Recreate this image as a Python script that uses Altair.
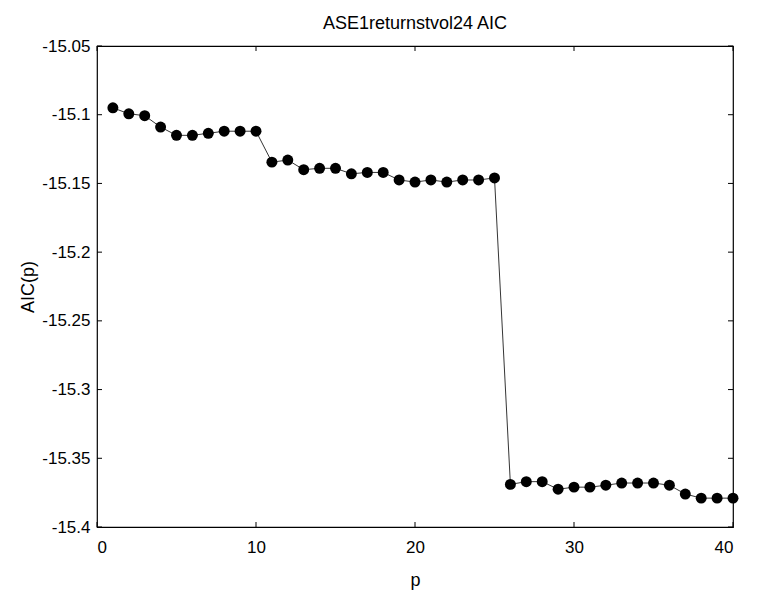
import altair as alt
import pandas as pd

p_vals = list(range(1, 41))
aic_vals = [-15.095, -15.0993, -15.1007, -15.109, -15.115, -15.115, -15.1135, -15.112, -15.112, -15.112,
            -15.1345, -15.133, -15.140, -15.139, -15.139, -15.143, -15.142, -15.142, -15.1475, -15.149,
            -15.1475, -15.149, -15.1475, -15.1475, -15.146,
            -15.369, -15.367, -15.367, -15.3725, -15.371, -15.371, -15.3696, -15.368, -15.368, -15.368,
            -15.3696, -15.376, -15.379, -15.379, -15.379]
x_ticks = [0, 10, 20, 30, 40]
y_ticks = [-15.05, -15.1, -15.15, -15.2, -15.25, -15.3, -15.35, -15.4]

df = pd.DataFrame({"p": p_vals, "aic": aic_vals})
xt = pd.DataFrame({"t": x_ticks})
yt = pd.DataFrame({"t": y_ticks})

W, H = 636, 481
FONT = "Liberation Sans"

xscale = alt.Scale(domain=[0, 40], nice=False, zero=False)
yscale = alt.Scale(domain=[-15.4, -15.05], nice=False, zero=False)

base = alt.Chart(df)
line = base.mark_line(color="black", strokeWidth=0.8).encode(
    x=alt.X("p:Q", scale=xscale,
            axis=alt.Axis(values=x_ticks, title="p", tickSize=0, labelPadding=12,
                          titlePadding=16, grid=False, domain=False)),
    y=alt.Y("aic:Q", scale=yscale,
            axis=alt.Axis(values=y_ticks, title="AIC(p)", tickSize=0, labelPadding=7,
                          titlePadding=4, grid=False, domain=False,
                          labelExpr="replace(replace(format(datum.value, '.2f'), /0$/, ''), '\u2212', '-')")),
)
pts = base.mark_circle(color="black", opacity=1, size=120).encode(
    x=alt.X("p:Q", scale=xscale), y=alt.Y("aic:Q", scale=yscale))

xt_bot = alt.Chart(xt).mark_rule(color="black", strokeWidth=1).encode(
    x=alt.X("t:Q", scale=xscale), y=alt.value(H), y2=alt.value(H - 5))
xt_top = alt.Chart(xt).mark_rule(color="black", strokeWidth=1).encode(
    x=alt.X("t:Q", scale=xscale), y=alt.value(0), y2=alt.value(5))
yt_left = alt.Chart(yt).mark_rule(color="black", strokeWidth=1).encode(
    y=alt.Y("t:Q", scale=yscale), x=alt.value(0), x2=alt.value(5))
yt_right = alt.Chart(yt).mark_rule(color="black", strokeWidth=1).encode(
    y=alt.Y("t:Q", scale=yscale), x=alt.value(W), x2=alt.value(W - 5))

chart = alt.layer(line, pts, xt_bot, xt_top, yt_left, yt_right).properties(
    width=W, height=H,
    title="ASE1returnstvol24 AIC",
    autosize=alt.AutoSizeParams(type="none"),
    padding={"left": 97, "top": 46, "right": 36, "bottom": 77},
).configure(
    background="white"
).configure_view(
    stroke="black", strokeWidth=1.2
).configure_title(
    font=FONT, fontSize=18, fontWeight="normal", color="black", offset=4
).configure_axis(
    labelFont=FONT, titleFont=FONT, labelFontSize=17, titleFontSize=18,
    labelColor="black", titleColor="black", titleFontWeight="normal"
)

chart.save("out.html", embed_options={"renderer": "svg", "actions": False})
